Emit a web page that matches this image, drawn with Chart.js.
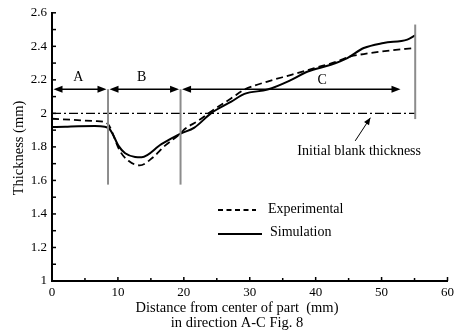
<!DOCTYPE html>
<html>
<head>
<meta charset="utf-8">
<script src="https://cdn.jsdelivr.net/npm/chart.js@4.4.0/dist/chart.umd.min.js"></script>
<style>
html,body{margin:0;padding:0;background:#fff;}
#wrap{width:458px;height:333px;}
</style>
</head>
<body>
<div id="wrap"><canvas id="c" width="458" height="333"></canvas></div>
<script>
// ---- data ----
const xTicks = [0, 10, 20, 30, 40, 50, 60];
const yTicks = [1, 1.2, 1.4, 1.6, 1.8, 2, 2.2, 2.4, 2.6];

const simX = [0, 2, 4, 6.5, 8, 8.6, 9.1, 10.1, 11.1, 12.6, 13.6, 16.6, 19.5, 21.6, 24.2, 27.2, 29.2, 32.7, 36.3, 38.8, 42.3, 44.8, 47.3, 50.3, 53.9, 55.1];
const simY = [1.918, 1.92, 1.923, 1.924, 1.92, 1.912, 1.885, 1.806, 1.762, 1.74, 1.738, 1.816, 1.879, 1.915, 2.003, 2.07, 2.116, 2.142, 2.2, 2.25, 2.29, 2.33, 2.39, 2.42, 2.44, 2.465];

const expX = [0, 3, 6.5, 8.0, 8.7, 9.3, 10.3, 11.6, 13.3, 15.3, 17.1, 19.5, 20.1, 22.1, 24.2, 27.2, 29.2, 32.7, 36.3, 39.8, 43.3, 45.3, 47.3, 51.3, 54.9];
const expY = [1.968, 1.962, 1.954, 1.948, 1.925, 1.87, 1.776, 1.717, 1.69, 1.737, 1.806, 1.88, 1.905, 1.954, 2.013, 2.09, 2.142, 2.19, 2.23, 2.27, 2.31, 2.34, 2.354, 2.375, 2.39];

const blankX = [0, 55.1];
const blankY = [2, 2];

// region markers (data units)
const regionBounds = [0, 8.5, 19.5, 53.1];
const regionNames = ['A', 'B', 'C'];
const regionLabelX = [4, 13.6, 41];
const regionLabelY = [2.215, 2.215, 2.2];
const arrowY = 2.144;
const dividerX = [8.5, 19.5, 55.1];
const dividerLow = [1.575, 1.575, 1.966];
const dividerHigh = [2.144, 2.144, 2.53];

const noteText = 'Initial blank thickness';
const notePos = [46.6, 1.776];
const noteArrowFrom = [46.0, 1.836];
const noteArrowTo = [48.3, 1.974];

const FONT = '"Liberation Serif", "Times New Roman", serif';

function pts(xs, ys){ return xs.map((x,i)=>({x:x, y:ys[i]})); }

function arrowHead(ctx, x, y, dx, dy, len, half){
  const L = Math.hypot(dx,dy); const ux=dx/L, uy=dy/L;
  ctx.beginPath();
  ctx.moveTo(x, y);
  ctx.lineTo(x - ux*len - uy*half, y - uy*len + ux*half);
  ctx.lineTo(x - ux*len + uy*half, y - uy*len - ux*half);
  ctx.closePath();
  ctx.fill();
}

const decor = {
  id: 'decor',
  afterDraw(chart){
    const ctx = chart.ctx;
    const xs = chart.scales.x, ys = chart.scales.y;
    const X = v => xs.getPixelForValue(v), Y = v => ys.getPixelForValue(v);
    const area = chart.chartArea;
    ctx.save();
    // inward ticks
    ctx.strokeStyle = '#000'; ctx.lineWidth = 1.5;
    for (let v = 0; v <= 60.001; v += 5){
      const px = X(v);
      ctx.beginPath(); ctx.moveTo(px, area.bottom); ctx.lineTo(px, area.bottom - (Math.abs(v%10)<0.01 ? 4 : 3)); ctx.stroke();
    }
    for (let v = 1; v <= 2.6001; v += 0.1){
      const py = Y(v);
      ctx.beginPath(); ctx.moveTo(area.left, py); ctx.lineTo(area.left + 4, py); ctx.stroke();
    }
    // dividers
    ctx.strokeStyle = '#8c8c8c'; ctx.lineWidth = 2;
    dividerX.forEach((dx,i)=>{
      ctx.beginPath(); ctx.moveTo(X(dx), Y(dividerLow[i])); ctx.lineTo(X(dx), Y(dividerHigh[i])); ctx.stroke();
    });
    // region arrows
    ctx.strokeStyle = '#000'; ctx.fillStyle = '#000'; ctx.lineWidth = 1.3;
    const ay = Y(arrowY);
    for (let i = 0; i < regionNames.length; i++){
      const x0 = X(regionBounds[i]) + 1.5, x1 = X(regionBounds[i+1]) - 1.5;
      ctx.beginPath(); ctx.moveTo(x0+4, ay); ctx.lineTo(x1-4, ay); ctx.stroke();
      arrowHead(ctx, x0, ay, -1, 0, 9, 3.5);
      arrowHead(ctx, x1, ay, 1, 0, 9, 3.5);
    }
    ctx.font = '14px ' + FONT; ctx.textAlign = 'center'; ctx.textBaseline = 'middle';
    regionNames.forEach((n,i)=>ctx.fillText(n, X(regionLabelX[i]), Y(regionLabelY[i])));
    // note
    ctx.fillText(noteText, X(notePos[0]), Y(notePos[1]));
    ctx.lineWidth = 1;
    const fx = X(noteArrowFrom[0]), fy = Y(noteArrowFrom[1]), tx = X(noteArrowTo[0]), ty = Y(noteArrowTo[1]);
    ctx.beginPath(); ctx.moveTo(fx, fy); ctx.lineTo(tx, ty); ctx.stroke();
    arrowHead(ctx, tx, ty, tx-fx, ty-fy, 7, 3);
    // legend
    ctx.lineWidth = 1.8;
    ctx.setLineDash([5, 3.5]);
    ctx.beginPath(); ctx.moveTo(218, 210); ctx.lineTo(256, 210); ctx.stroke();
    ctx.setLineDash([]);
    ctx.lineWidth = 2;
    ctx.beginPath(); ctx.moveTo(218, 234); ctx.lineTo(262, 234); ctx.stroke();
    ctx.textAlign = 'left';
    ctx.fillText('Experimental', 268, 209);
    ctx.fillText('Simulation', 270, 232);
    // axis titles
    ctx.textAlign = 'center';
    ctx.font = '14.5px ' + FONT;
    ctx.fillText('Distance from center of part  (mm)', 237, 308);
    ctx.fillText('in direction A-C Fig. 8', 237, 323);
    ctx.save();
    ctx.translate(19, 148); ctx.rotate(-Math.PI/2);
    ctx.fillText('Thickness (mm)', 0, 0);
    ctx.restore();
    ctx.restore();
  }
};

new Chart(document.getElementById('c'), {
  type: 'scatter',
  data: {
    datasets: [
      { label: 'Experimental', data: pts(expX, expY), showLine: true, borderColor: '#000', borderWidth: 1.8, borderDash: [7, 4], pointRadius: 0, cubicInterpolationMode: 'monotone', fill: false },
      { label: 'Simulation', data: pts(simX, simY), showLine: true, borderColor: '#000', borderWidth: 2, pointRadius: 0, cubicInterpolationMode: 'monotone', fill: false },
      { label: 'Initial blank thickness', data: pts(blankX, blankY), showLine: true, borderColor: '#000', borderWidth: 1.3, borderDash: [9, 3, 2, 3], pointRadius: 0, fill: false }
    ]
  },
  options: {
    responsive: false,
    animation: false,
    devicePixelRatio: 1,
    layout: { padding: { left: 0, top: 11, right: 9, bottom: 0 } },
    plugins: { legend: { display: false }, tooltip: { enabled: false } },
    scales: {
      x: {
        type: 'linear', min: 0, max: 60,
        afterBuildTicks: s => { s.ticks = xTicks.map(v => ({ value: v })); },
        afterFit: s => { s.height = 52; },
        grid: { display: false, drawTicks: false, tickLength: 0 },
        border: { display: true, color: '#000', width: 2 },
        ticks: { color: '#000', font: { family: FONT, size: 13 }, padding: 4, maxRotation: 0 }
      },
      y: {
        type: 'linear', min: 1, max: 2.6,
        afterBuildTicks: s => { s.ticks = yTicks.map(v => ({ value: v })); },
        afterFit: s => { s.width = 52; },
        grid: { display: false, drawTicks: false, tickLength: 0 },
        border: { display: true, color: '#000', width: 2 },
        ticks: { color: '#000', font: { family: FONT, size: 13 }, padding: 5, callback: v => String(Math.round(v*10)/10) }
      }
    }
  },
  plugins: [decor]
});
</script>
</body>
</html>
